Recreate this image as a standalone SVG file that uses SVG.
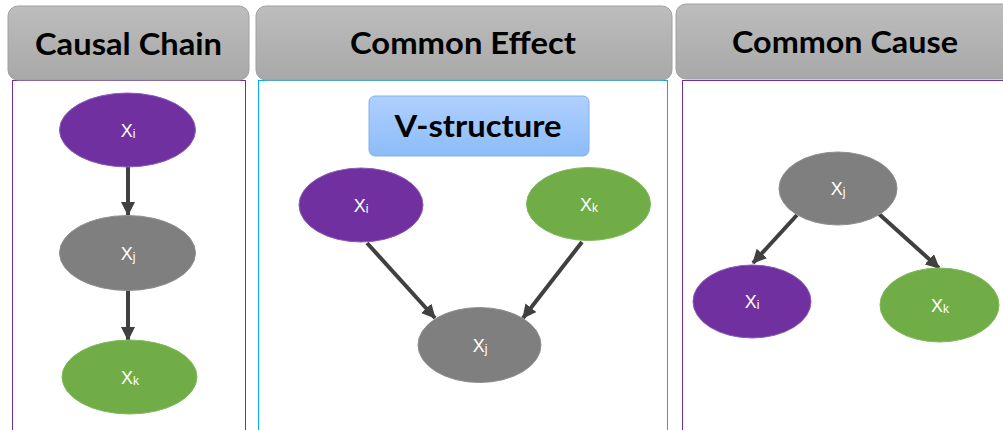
<svg xmlns="http://www.w3.org/2000/svg" width="1003" height="430" viewBox="0 0 1003 430">
  <defs>
    <linearGradient id="hdrGrad" x1="0" y1="0" x2="0" y2="1">
      <stop offset="0" stop-color="#bdbdbd"/>
      <stop offset="1" stop-color="#a8a8a8"/>
    </linearGradient>
    <linearGradient id="tagGrad" x1="0" y1="0" x2="0" y2="1">
      <stop offset="0" stop-color="#b0d0ff"/>
      <stop offset="1" stop-color="#8cbcf8"/>
    </linearGradient>
    <marker id="arrow" markerUnits="userSpaceOnUse" markerWidth="14" markerHeight="14" viewBox="0 0 14 14" refX="13" refY="7" orient="auto">
      <path d="M0,0 L14,7 L0,14 Z" fill="#404040"/>
    </marker>
  </defs>
  <style>
    .hdr { fill: url(#hdrGrad); stroke: #a0a0a0; stroke-width: 1; }
    .hdrText { font-family: Lato, "Open Sans", "Liberation Sans", sans-serif; font-weight: bold; font-size: 31px; fill: #000; text-anchor: middle; }
    .panel { fill: #fff; stroke-width: 1; }
    .purpleLine { stroke: #7030a0; }
    .cyanLine { stroke: #00b0f0; }
    .nPurple { fill: #7030a0; stroke: #8a5cb4; stroke-width: 1; }
    .nGray { fill: #7f7f7f; stroke: #8f8f8f; stroke-width: 1; }
    .nGreen { fill: #70ad47; stroke: #82b85e; stroke-width: 1; }
    .lbl { font-family: "Liberation Sans", Arial, sans-serif; font-size: 18px; fill: #fff; text-anchor: middle; }
    .sub { font-size: 12px; }
    .edge { stroke: #404040; stroke-width: 4; fill: none; marker-end: url(#arrow); }
  </style>

  <rect x="0" y="0" width="1003" height="430" fill="#fff"/>

  <!-- panels -->
  <g id="panels">
    <rect class="panel purpleLine" x="12.5" y="80.5" width="233" height="370"/>
    <rect class="panel cyanLine" x="258.5" y="80.5" width="409" height="370"/>
    <rect class="panel purpleLine" x="682.5" y="80.5" width="340" height="370"/>
  </g>

  <!-- panel headers -->
  <g id="header-chain">
    <rect class="hdr" x="8" y="6" width="241" height="74" rx="10"/>
    <text class="hdrText" x="128.5" y="55" textLength="187" lengthAdjust="spacingAndGlyphs">Causal Chain</text>
  </g>
  <g id="header-effect">
    <rect class="hdr" x="256" y="6" width="416" height="74" rx="10"/>
    <text class="hdrText" x="463" y="54" textLength="226" lengthAdjust="spacingAndGlyphs">Common Effect</text>
  </g>
  <g id="header-cause">
    <rect class="hdr" x="676" y="4" width="340" height="75" rx="10"/>
    <text class="hdrText" x="845" y="53" textLength="226" lengthAdjust="spacingAndGlyphs">Common Cause</text>
  </g>

  <!-- V-structure tag -->
  <g id="tag-vstructure">
    <rect x="369" y="96" width="220" height="60" rx="6" fill="url(#tagGrad)" stroke="#7fb2ee" stroke-width="1"/>
    <text class="hdrText" x="478" y="137" textLength="167" lengthAdjust="spacingAndGlyphs">V-structure</text>
  </g>

  <!-- connectors -->
  <g id="connectors">
    <line class="edge" x1="128" y1="167" x2="128" y2="215"/>
    <line class="edge" x1="128" y1="290" x2="128" y2="340"/>
    <line class="edge" x1="367" y1="243" x2="435" y2="318"/>
    <line class="edge" x1="582" y1="242" x2="523" y2="318"/>
    <line class="edge" x1="797" y1="215" x2="753" y2="263"/>
    <line class="edge" x1="879" y1="214" x2="939" y2="268"/>
  </g>

  <!-- Causal Chain nodes -->
  <g id="chain-xi">
    <ellipse class="nPurple" cx="127.5" cy="130" rx="68" ry="37"/>
    <text class="lbl" x="128" y="137">X<tspan class="sub" dy="1">i</tspan></text>
  </g>
  <g id="chain-xj">
    <ellipse class="nGray" cx="127.5" cy="253" rx="68" ry="37.5"/>
    <text class="lbl" x="128" y="260">X<tspan class="sub" dy="1">j</tspan></text>
  </g>
  <g id="chain-xk">
    <ellipse class="nGreen" cx="129.5" cy="377" rx="67.5" ry="37"/>
    <text class="lbl" x="130" y="384">X<tspan class="sub" dy="1">k</tspan></text>
  </g>

  <!-- Common Effect nodes -->
  <g id="effect-xi">
    <ellipse class="nPurple" cx="361" cy="205" rx="62" ry="37"/>
    <text class="lbl" x="361" y="212">X<tspan class="sub" dy="1">i</tspan></text>
  </g>
  <g id="effect-xk">
    <ellipse class="nGreen" cx="588.5" cy="204" rx="62" ry="36.5"/>
    <text class="lbl" x="589" y="211">X<tspan class="sub" dy="1">k</tspan></text>
  </g>
  <g id="effect-xj">
    <ellipse class="nGray" cx="479.5" cy="345" rx="61.5" ry="37.5"/>
    <text class="lbl" x="480" y="352">X<tspan class="sub" dy="1">j</tspan></text>
  </g>

  <!-- Common Cause nodes -->
  <g id="cause-xj">
    <ellipse class="nGray" cx="838" cy="188.5" rx="59" ry="36.5"/>
    <text class="lbl" x="838" y="195">X<tspan class="sub" dy="1">j</tspan></text>
  </g>
  <g id="cause-xi">
    <ellipse class="nPurple" cx="752" cy="301.5" rx="59" ry="36.5"/>
    <text class="lbl" x="752" y="308">X<tspan class="sub" dy="1">i</tspan></text>
  </g>
  <g id="cause-xk">
    <ellipse class="nGreen" cx="939.5" cy="305" rx="59.5" ry="37"/>
    <text class="lbl" x="940" y="312">X<tspan class="sub" dy="1">k</tspan></text>
  </g>
</svg>
